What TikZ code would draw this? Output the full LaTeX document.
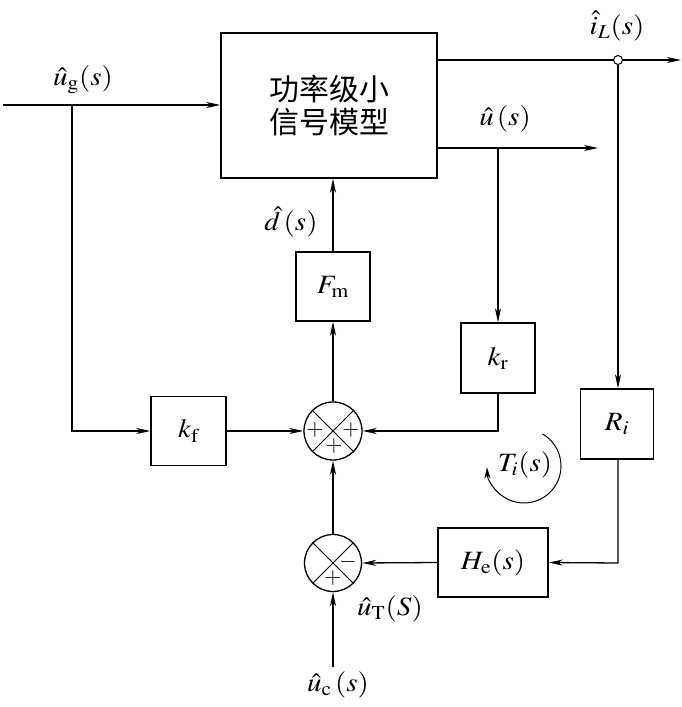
\documentclass[tikz,border=0pt]{standalone}
\usepackage{mathptmx}
\usepackage{fontspec}
\setmainfont{Liberation Serif}
\newfontfamily\cjk{Noto Sans CJK SC}
\usetikzlibrary{arrows.meta}
\newcommand{\bigmath}[1]{\scalebox{1.45}[1.32]{$#1$}}
\begin{document}
\begin{tikzpicture}[x=1pt,y=1pt,line width=1.3pt,
  >={Stealth[length=14pt,width=6pt,inset=4pt]},
  blk/.style={draw,inner sep=0pt,font=\fontsize{20}{24}\selectfont},
  sumc/.style={circle,draw,inner sep=0pt,minimum size=#1},
  lbl/.style={inner sep=0pt,font=\fontsize{20}{24}\selectfont},
  sgn/.style={inner sep=0pt,font=\fontsize{20}{24}\selectfont},
  thin/.style={line width=0.9pt}]
\useasboundingbox (0,0) rectangle (681,707);
% blocks
\node[blk,minimum width=216pt,minimum height=145pt,align=center,
  font=\cjk\fontsize{30}{33}\selectfont] (main) at (329,601.5) {功率级小\\信号模型};
\node[blk,minimum width=75pt,minimum height=69pt] (kf) at (188.5,276) {\bigmath{k_{\mathrm{f}}}};
\node[blk,minimum width=74pt,minimum height=69pt] (fm) at (333,420.5) {\bigmath{F_{\mathrm{m}}}};
\node[blk,minimum width=74pt,minimum height=70pt] (kr) at (498,349) {\bigmath{k_{\mathrm{r}}}};
\node[blk,minimum width=73pt,minimum height=70pt] (ri) at (617,283) {\bigmath{R_i}};
\node[blk,minimum width=110pt,minimum height=69pt] (he) at (493,144.5) {\bigmath{H_{\mathrm{e}}(s)}};
% summing junctions
\node[sumc=58pt] (s1) at (333,276) {};
\node[sumc=57pt] (s2) at (333,144) {};
\draw[thin] (s1.45) -- (s1.225) (s1.135) -- (s1.315);
\draw[thin] (s2.45) -- (s2.225) (s2.135) -- (s2.315);
\node[sgn] (p1) at (315,277) {\scalebox{1.1}{$+$}};
\node[sgn] (p2) at (351,277) {\scalebox{1.1}{$+$}};
\node[sgn] (p3) at (334,261) {\scalebox{1.1}{$+$}};
\node[sgn] (m1) at (348,145) {\scalebox{1.1}{$-$}};
\node[sgn] (p4) at (333,129) {\scalebox{1.1}{$+$}};
% pick-off point
\node[circle,draw,fill=white,minimum size=9pt,inner sep=0pt,line width=1pt] (j) at (618,647) {};
% coordinates
\coordinate (in) at (3,602);
\coordinate (bg) at (72,602);
\coordinate (bgd) at (72,276);
\coordinate (ilout) at (681,647);
\coordinate (ub) at (498,559);
\coordinate (uout) at (598,559);
\coordinate (krc) at (498,276);
\coordinate (ric) at (618,144);
\coordinate (uc) at (333,40);
% connectors
\draw[->] (in) -- (in -| main.west);
\draw[->] (bg) -- (bgd) -- (kf.west);
\draw[->] (kf.east) -- (s1.west);
\draw[->] (s1.north) -- (fm.south);
\draw[->] (fm.north) -- (main.south -| fm.north);
\draw (main.east |- j) -- (j.west);
\draw[->] (j.east) -- (ilout);
\draw[->] (main.east |- uout) -- (uout);
\draw[->] (ub) -- (kr.north);
\draw[->] (kr.south) -- (krc) -- (s1.east);
\draw[->] (j.south) -- (ri.north -| j);
\draw[->] (ri.south -| j) -- (ric) -- (he.east);
\draw[->] (he.west) -- (s2.east);
\draw[->] (s2.north) -- (s1.south);
\draw[->] (uc) -- (s2.south);
% loop gain arc
\draw[line width=1pt,-{Stealth[length=11pt,width=6pt,inset=3pt]}] (524,241) ++(60:37) arc[start angle=60,end angle=-178,radius=37];
% labels
\node[lbl] (lug) at (83,627) {\bigmath{\hat{u}_{\mathrm{g}}(s)}};
\node[lbl] (lil) at (617,681) {\bigmath{\hat{i}_L(s)}};
\node[lbl] (lu) at (505,588) {\bigmath{\hat{u}\,(s)}};
\node[lbl] (ld) at (291,485) {\bigmath{\hat{d}\,(s)}};
\node[lbl] (lti) at (525,242) {\bigmath{T_i(s)}};
\node[lbl] (lut) at (390,98) {\bigmath{\hat{u}_{\mathrm{T}}(S)}};
\node[lbl] (luc) at (338,22) {\bigmath{\hat{u}_{\mathrm{c}}\,(s)}};
\end{tikzpicture}
\end{document}
